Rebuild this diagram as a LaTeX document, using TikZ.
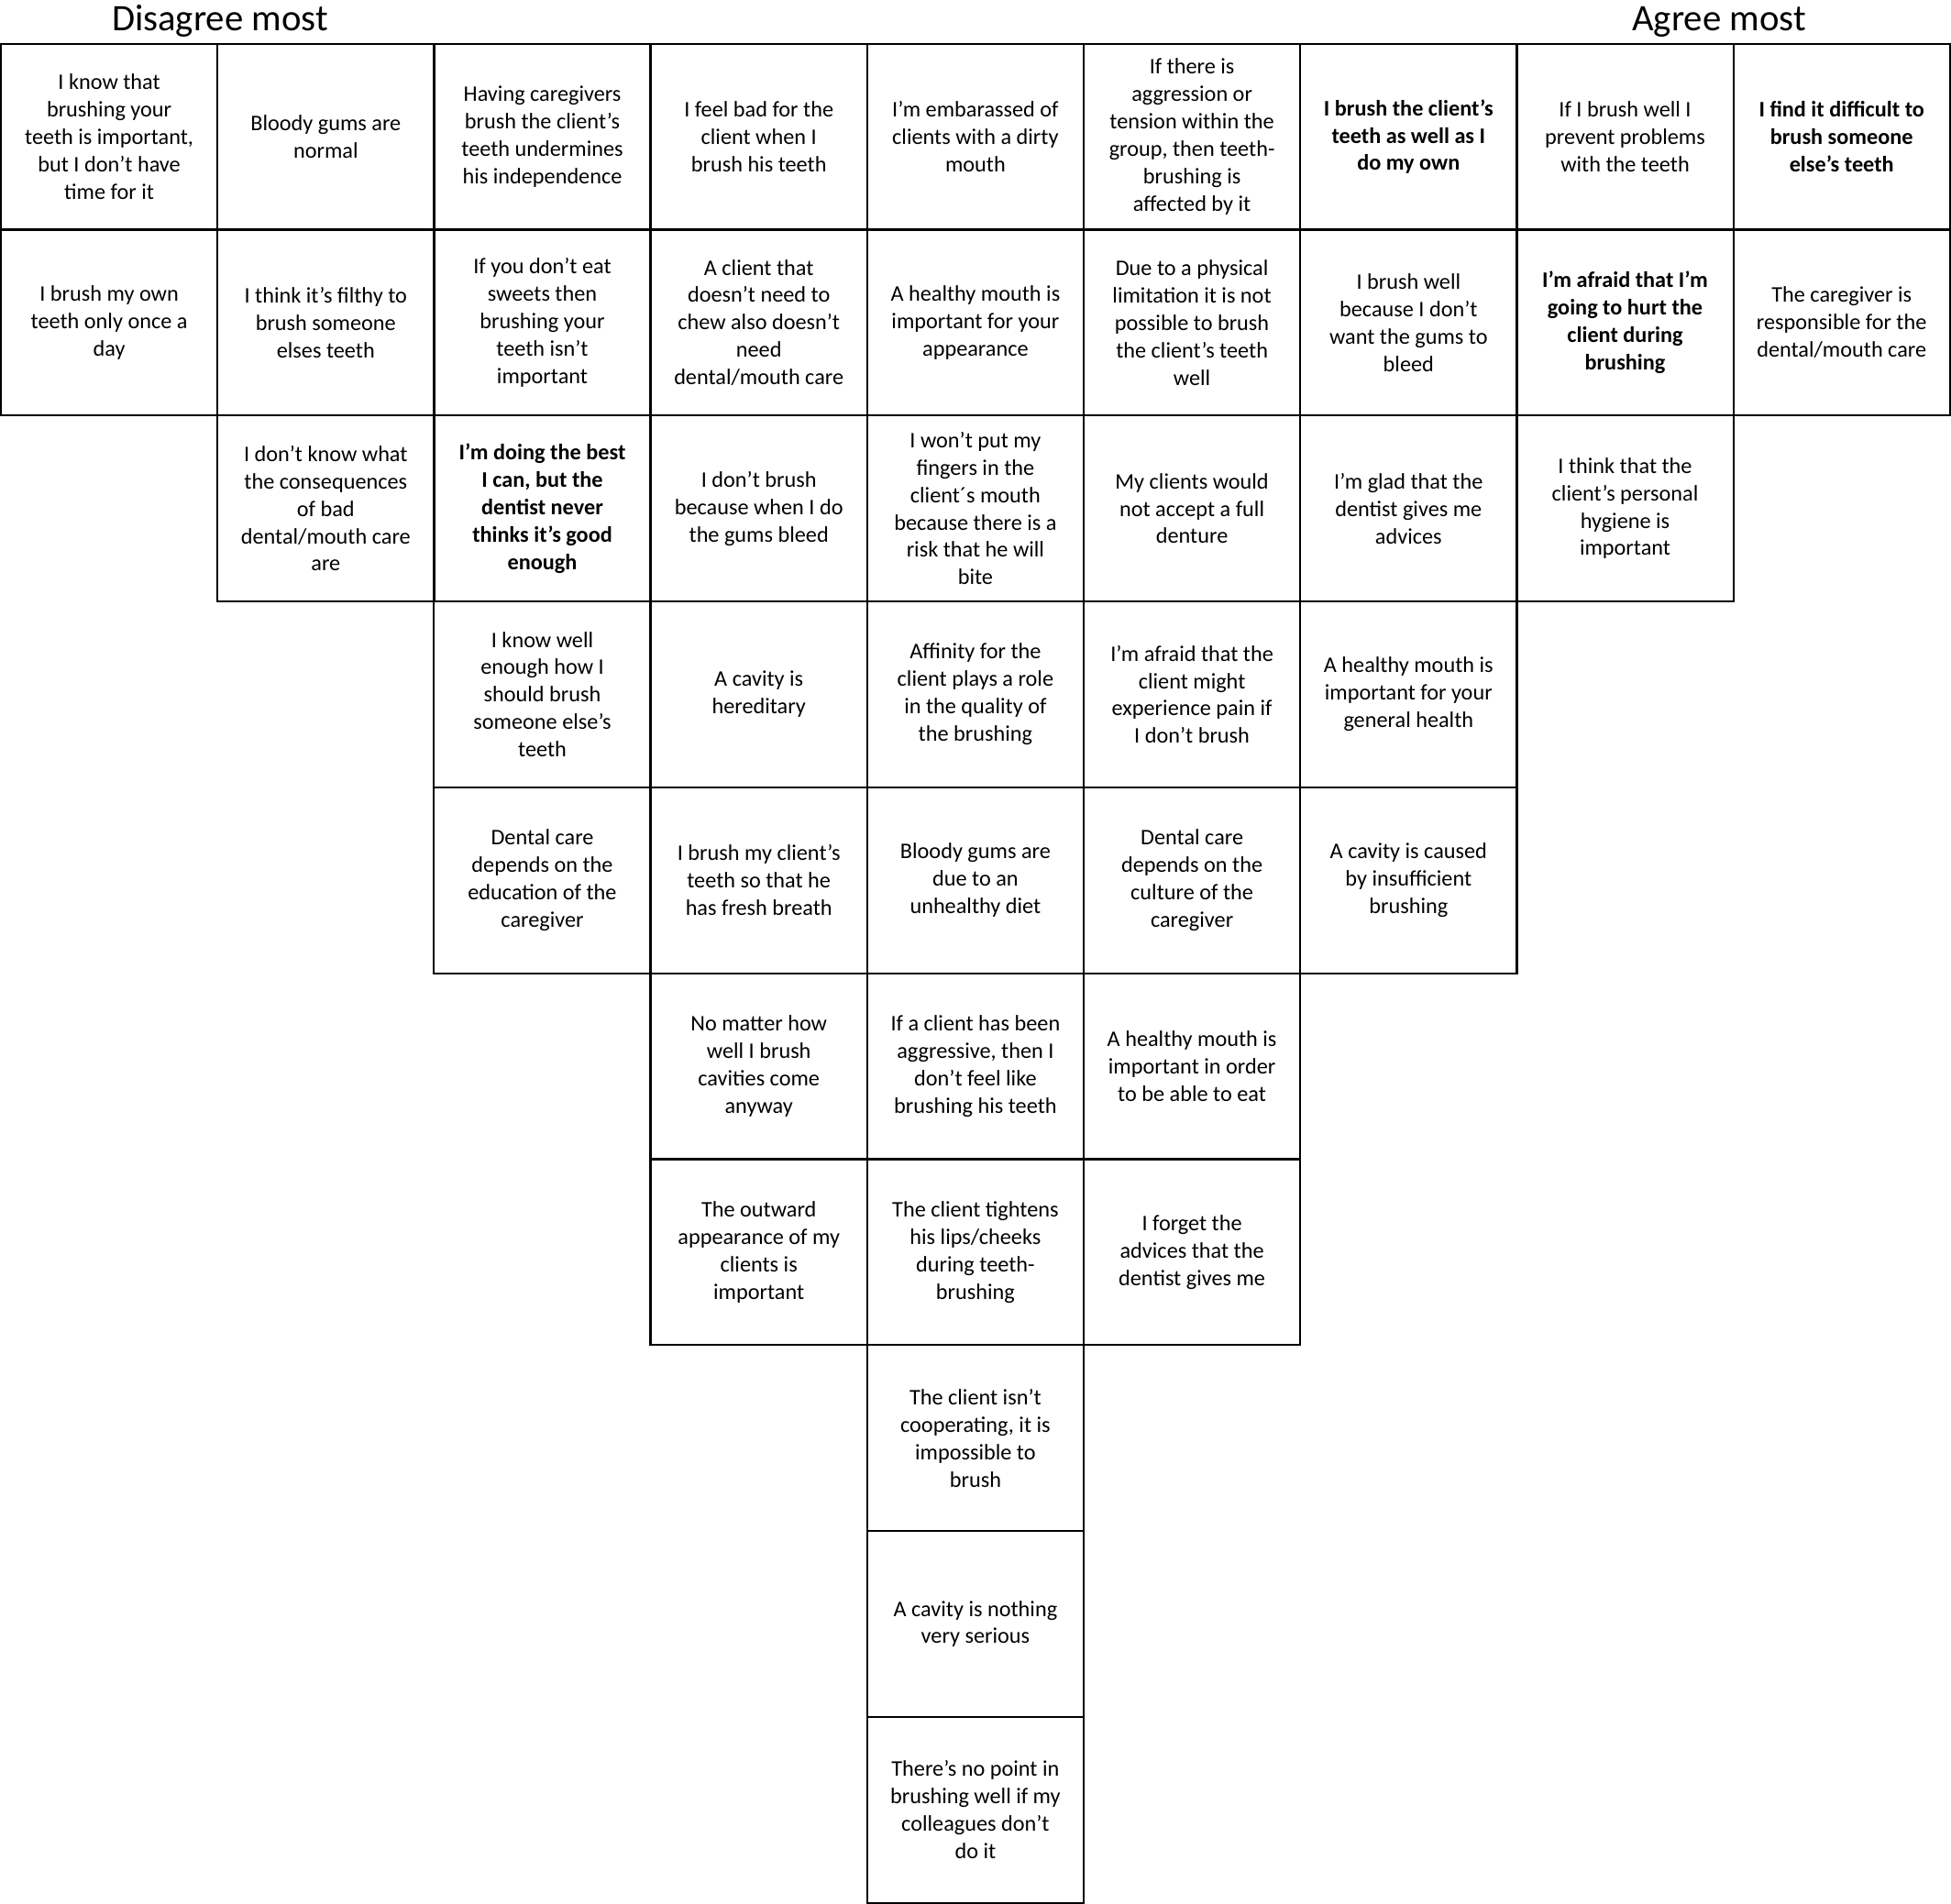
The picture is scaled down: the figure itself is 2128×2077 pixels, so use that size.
\documentclass[tikz,border=0pt]{standalone}
\usepackage{fontspec}
\setmainfont{Carlito}
\usepackage{tikz}

\tikzset{
  card/.style={draw, line width=0.6pt, minimum width=2.362cm, minimum height=2.028cm,
    align=center, inner sep=0pt, outer sep=0pt, font={\fontsize{6.9}{8.5}\selectfont}},
  cardbold/.style={card, font={\fontsize{6.9}{8.5}\selectfont\bfseries}},
  head/.style={anchor=base, inner sep=0pt, font={\fontsize{11.6}{13.5}\selectfont}}
}

\begin{document}
\begin{tikzpicture}[x=0.01cm, y=-0.01cm]
  \useasboundingbox (0,0) rectangle (2128,2077);

  \node (dm) [head] at (240,34) {Disagree most};
  \node (am) [head] at (1875,34) {Agree most};

  \node (s11) [card] at (119.1,149.1) {I know that\\brushing your\\teeth is important,\\but I don’t have\\time for it};
  \node (s12) [card] at (119.1,351.9) {I brush my own\\teeth only once a\\day};

  \node (s21) [card] at (355.3,149.1) {Bloody gums are\\normal};
  \node (s22) [card] at (355.3,351.9) {I think it’s filthy to\\brush someone\\elses teeth};
  \node (s23) [card] at (355.3,554.7) {I don’t know what\\the consequences\\of bad\\dental/mouth care\\are};

  \node (s31) [card] at (591.5,149.1) {Having caregivers\\brush the client’s\\teeth undermines\\his independence};
  \node (s32) [card] at (591.5,351.9) {If you don’t eat\\sweets then\\brushing your\\teeth isn’t\\important};
  \node (s33) [cardbold] at (591.5,554.7) {I’m doing the best\\I can, but the\\dentist never\\thinks it’s good\\enough};
  \node (s34) [card] at (591.5,757.5) {I know well\\enough how I\\should brush\\someone else’s\\teeth};
  \node (s35) [card] at (591.5,960.3) {Dental care\\depends on the\\education of the\\caregiver};

  \node (s41) [card] at (827.7,149.1) {I feel bad for the\\client when I\\brush his teeth};
  \node (s42) [card] at (827.7,351.9) {A client that\\doesn’t need to\\chew also doesn’t\\need\\dental/mouth care};
  \node (s43) [card] at (827.7,554.7) {I don’t brush\\because when I do\\the gums bleed};
  \node (s44) [card] at (827.7,757.5) {A cavity is\\hereditary};
  \node (s45) [card] at (827.7,960.3) {I brush my client’s\\teeth so that he\\has fresh breath};
  \node (s46) [card] at (827.7,1163.1) {No matter how\\well I brush\\cavities come\\anyway};
  \node (s47) [card] at (827.7,1365.9) {The outward\\appearance of my\\clients is\\important};

  \node (s51) [card] at (1063.9,149.1) {I’m embarassed of\\clients with a dirty\\mouth};
  \node (s52) [card] at (1063.9,351.9) {A healthy mouth is\\important for your\\appearance};
  \node (s53) [card] at (1063.9,554.7) {I won’t put my\\fingers in the\\client´s mouth\\because there is a\\risk that he will\\bite};
  \node (s54) [card] at (1063.9,757.5) {Affinity for the\\client plays a role\\in the quality of\\the brushing};
  \node (s55) [card] at (1063.9,960.3) {Bloody gums are\\due to an\\unhealthy diet};
  \node (s56) [card] at (1063.9,1163.1) {If a client has been\\aggressive, then I\\don’t feel like\\brushing his teeth};
  \node (s57) [card] at (1063.9,1365.9) {The client tightens\\his lips/cheeks\\during teeth-\\brushing};
  \node (s58) [card] at (1063.9,1568.7) {The client isn’t\\cooperating, it is\\impossible to\\brush};
  \node (s59) [card] at (1063.9,1771.5) {A cavity is nothing\\very serious};
  \node (s510) [card] at (1063.9,1974.3) {There’s no point in\\brushing well if my\\colleagues don’t\\do it};

  \node (s61) [card] at (1300.1,149.1) {If there is\\aggression or\\tension within the\\group, then teeth-\\brushing is\\affected by it};
  \node (s62) [card] at (1300.1,351.9) {Due to a physical\\limitation it is not\\possible to brush\\the client’s teeth\\well};
  \node (s63) [card] at (1300.1,554.7) {My clients would\\not accept a full\\denture};
  \node (s64) [card] at (1300.1,757.5) {I’m afraid that the\\client might\\experience pain if\\I don’t brush};
  \node (s65) [card] at (1300.1,960.3) {Dental care\\depends on the\\culture of the\\caregiver};
  \node (s66) [card] at (1300.1,1163.1) {A healthy mouth is\\important in order\\to be able to eat};
  \node (s67) [card] at (1300.1,1365.9) {I forget the\\advices that the\\dentist gives me};

  \node (s71) [cardbold] at (1536.3,149.1) {I brush the client’s\\teeth as well as I\\do my own};
  \node (s72) [card] at (1536.3,351.9) {I brush well\\because I don’t\\want the gums to\\bleed};
  \node (s73) [card] at (1536.3,554.7) {I’m glad that the\\dentist gives me\\advices};
  \node (s74) [card] at (1536.3,757.5) {A healthy mouth is\\important for your\\general health};
  \node (s75) [card] at (1536.3,960.3) {A cavity is caused\\by insufficient\\brushing};

  \node (s81) [card] at (1772.5,149.1) {If I brush well I\\prevent problems\\with the teeth};
  \node (s82) [cardbold] at (1772.5,351.9) {I’m afraid that I’m\\going to hurt the\\client during\\brushing};
  \node (s83) [card] at (1772.5,554.7) {I think that the\\client’s personal\\hygiene is\\important};

  \node (s91) [cardbold] at (2008.7,149.1) {I find it difficult to\\brush someone\\else’s teeth};
  \node (s92) [card] at (2008.7,351.9) {The caregiver is\\responsible for the\\dental/mouth care};
\end{tikzpicture}
\end{document}
